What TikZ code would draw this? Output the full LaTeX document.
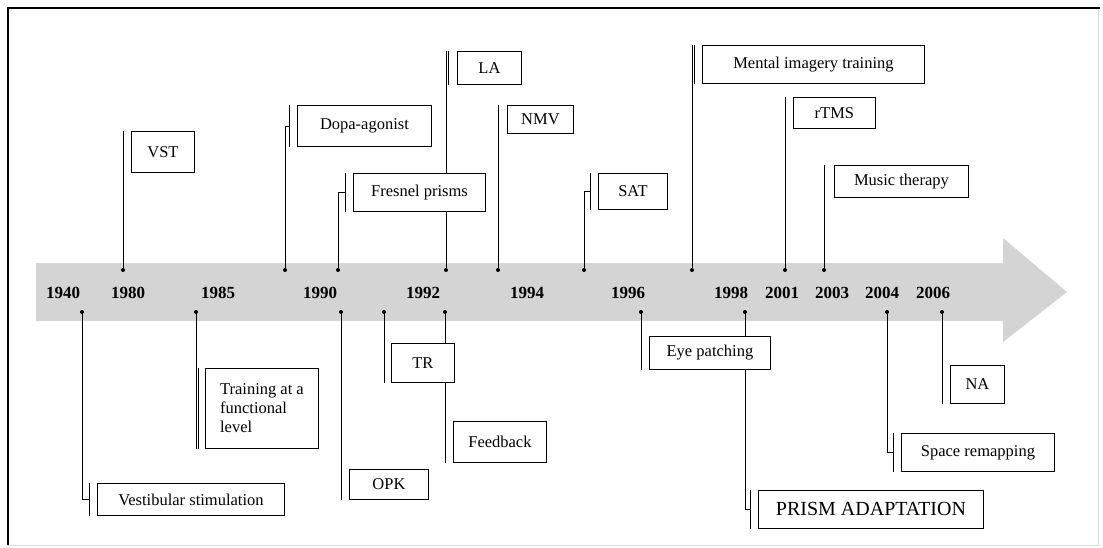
\documentclass[tikz,border=0pt]{standalone}
\usepackage{fontspec}
\setmainfont{Liberation Serif}
\usetikzlibrary{backgrounds}
\definecolor{bandgray}{gray}{0.83}
\definecolor{framegray}{gray}{0.85}
\tikzset{
  evt/.style={draw, fill=white, line width=0.9pt, anchor=north west, inner sep=0pt,
    font=\fontsize{16.5}{19}\selectfont},
  stem/.style={line width=0.7pt},
  yr/.style={font=\bfseries\fontsize{17}{19}\selectfont},
  dot/.style={circle, fill, inner sep=0pt, minimum size=4pt},
}
\begin{document}
\begin{tikzpicture}[x=1pt,y=-1pt]
    \useasboundingbox (0,0) rectangle (1103,547);
    % frame
    \draw[framegray, line width=1pt] (8,545) -- (1098,545) -- (1098,8);
    \draw[line width=1.3pt] (8,545) -- (8,8) -- (1100,8);
    % time arrow
    \begin{pgfonlayer}{background}
    \fill[bandgray] (36,263) -- (1003,263) -- (1003,238) -- (1067,292)
        -- (1003,342) -- (1003,321) -- (36,321) -- cycle;
    \end{pgfonlayer}
    %
    \node[yr] (y1940) at (63,293) {1940};
    \node[yr] (y1980) at (128,293) {1980};
    \node[yr] (y1985) at (218,293) {1985};
    \node[yr] (y1990) at (320,293) {1990};
    \node[yr] (y1992) at (423,293) {1992};
    \node[yr] (y1994) at (527,293) {1994};
    \node[yr] (y1996) at (628,293) {1996};
    \node[yr] (y1998) at (731,293) {1998};
    \node[yr] (y2001) at (782,293) {2001};
    \node[yr] (y2003) at (832,293) {2003};
    \node[yr] (y2004) at (882,293) {2004};
    \node[yr] (y2006) at (933,293) {2006};
    % events above the arrow
    \node[dot] (dvst) at (123,270) {};
    \node[evt, minimum width=63pt, minimum height=41pt] (vst) at (131,131) {VST};
    \node[dot] (ddopa) at (285,270) {};
    \node[evt, minimum width=134pt, minimum height=41pt] (dopa) at (297,105) {Dopa-agonist};
    \node[dot] (dfres) at (338,270) {};
    \node[evt, minimum width=132pt, minimum height=38pt] (fres) at (353,173) {Fresnel prisms};
    \node[dot] (dla) at (446,270) {};
    \node[evt, minimum width=64pt, minimum height=33pt] (la) at (457,51) {LA};
    \node[dot] (dnmv) at (498,270) {};
    \node[evt, minimum width=66pt, minimum height=28pt] (nmv) at (507,105) {NMV};
    \node[dot] (dsat) at (584,270) {};
    \node[evt, minimum width=69pt, minimum height=36pt] (sat) at (598,173) {SAT};
    \node[dot] (dmit) at (692,270) {};
    \node[evt, minimum width=222pt, minimum height=38pt] (mit) at (702,45) {Mental imagery training};
    \node[dot] (drtms) at (785,270) {};
    \node[evt, minimum width=82pt, minimum height=31pt] (rtms) at (793,97) {rTMS};
    \node[dot] (dmus) at (824,270) {};
    \node[evt, minimum width=134pt, minimum height=32pt] (mus) at (834,165) {Music therapy};
    % events below the arrow
    \node[dot] (dvest) at (82,312) {};
    \node[evt, minimum width=187pt, minimum height=32pt] (vest) at (97,483) {Vestibular stimulation};
    \node[dot] (dtrain) at (196,312) {};
    \node[evt, minimum width=113pt, minimum height=80pt, align=left] (train) at (205,368)
        {Training at a\\functional\\level};
    \node[dot] (dopk) at (341,312) {};
    \node[evt, minimum width=79pt, minimum height=30pt] (opk) at (349,469) {OPK};
    \node[dot] (dtr) at (384,312) {};
    \node[evt, minimum width=63pt, minimum height=39pt] (tr) at (391,343) {TR};
    \node[dot] (dfeed) at (445,312) {};
    \node[evt, minimum width=93pt, minimum height=41pt] (feed) at (453,421) {Feedback};
    \node[dot] (deye) at (641,312) {};
    \node[evt, minimum width=121pt, minimum height=33pt] (eye) at (649,336) {Eye patching};
    \node[dot] (dprism) at (745,312) {};
    \node[evt, minimum width=225pt, minimum height=38pt, font=\fontsize{20}{22}\selectfont]
        (prism) at (758,490) {PRISM ADAPTATION};
    \node[dot] (dspace) at (887,312) {};
    \node[evt, minimum width=153pt, minimum height=38pt] (space) at (901,433) {Space remapping};
    \node[dot] (dna) at (942,312) {};
    \node[evt, minimum width=54pt, minimum height=38pt] (na) at (950,365) {NA};
    % stems, behind the boxes
    \begin{pgfonlayer}{background}
    \draw[stem] (dvst) -- (dvst |- vst.north);
    \draw[stem] (ddopa) |- ([xshift=-8pt]dopa.west);
    \draw[stem] ([xshift=-8pt]dopa.north west) -- ([xshift=-8pt]dopa.south west);
    \draw[stem] (dfres) |- ([xshift=-8pt]fres.west);
    \draw[stem] ([xshift=-8pt]fres.north west) -- ([xshift=-8pt]fres.south west);
    \draw[stem] (dla) -- (dla |- la.north);
    \draw[stem] ([xshift=-9pt]la.north west) -- ([xshift=-9pt]la.south west);
    \draw[stem] (dnmv) -- (dnmv |- nmv.north);
    \draw[stem] (dsat) |- ([xshift=-8pt]sat.west);
    \draw[stem] ([xshift=-8pt]sat.north west) -- ([xshift=-8pt]sat.south west);
    \draw[stem] (dmit) -- (dmit |- mit.north);
    \draw[stem] ([xshift=-8pt]mit.north west) -- ([xshift=-8pt]mit.south west);
    \draw[stem] (drtms) -- (drtms |- rtms.north);
    \draw[stem] (dmus) -- (dmus |- mus.north);
    %
    \draw[stem] (dvest) |- ([xshift=-8pt]vest.west);
    \draw[stem] ([xshift=-8pt]vest.north west) -- ([xshift=-8pt]vest.south west);
    \draw[stem] (dtrain) -- (dtrain |- train.south);
    \draw[stem] ([xshift=-7pt]train.north west) -- ([xshift=-7pt]train.south west);
    \draw[stem] (dopk) -- (dopk |- opk.south);
    \draw[stem] (dtr) -- (dtr |- tr.south);
    \draw[stem] (dfeed) -- (dfeed |- feed.south);
    \draw[stem] (deye) -- (deye |- eye.south);
    \draw[stem] (dprism) |- ([xshift=-8pt]prism.west);
    \draw[stem] ([xshift=-8pt]prism.north west) -- ([xshift=-8pt]prism.south west);
    \draw[stem] (dspace) |- ([xshift=-8pt]space.west);
    \draw[stem] ([xshift=-8pt]space.north west) -- ([xshift=-8pt]space.south west);
    \draw[stem] (dna) -- (dna |- na.south);
    \end{pgfonlayer}
\end{tikzpicture}
\end{document}
